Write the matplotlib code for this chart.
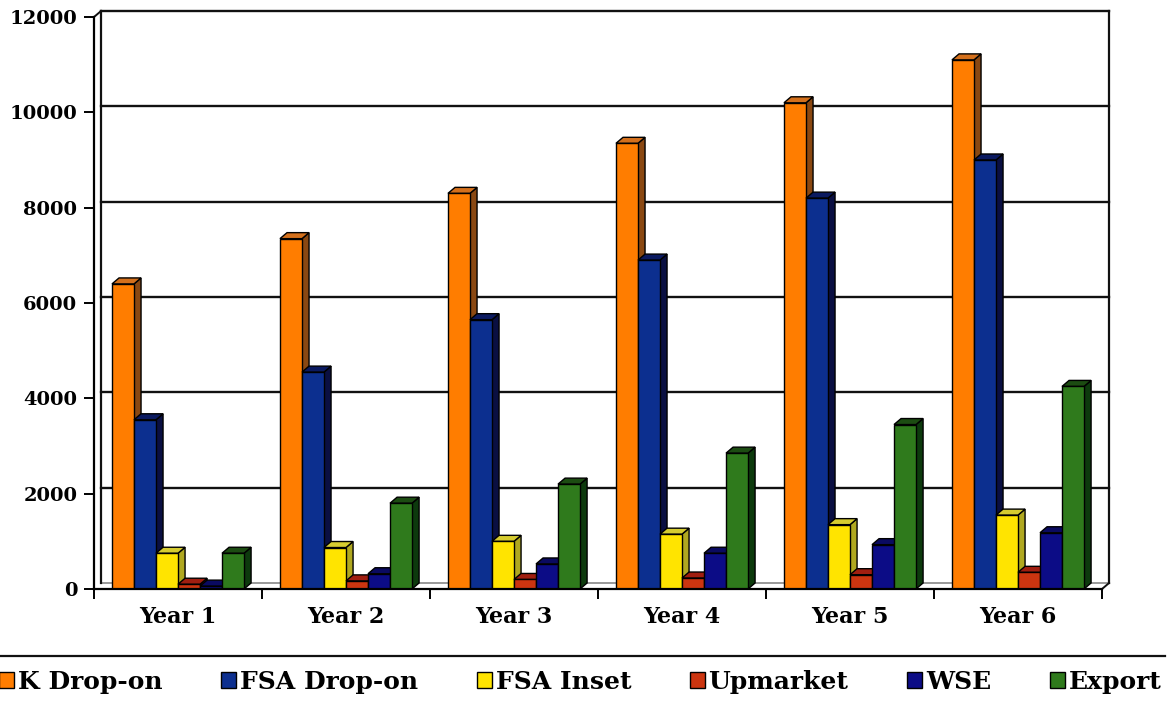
import numpy as np
import matplotlib.pyplot as plt
from matplotlib.patches import Polygon
from matplotlib.lines import Line2D

years = ["Year 1", "Year 2", "Year 3", "Year 4", "Year 5", "Year 6"]
series = ["K Drop-on", "FSA Drop-on", "FSA Inset", "Upmarket", "WSE", "Export"]

k_drop_on = [6400, 7350, 8300, 9350, 10200, 11100]
fsa_drop_on = [3550, 4550, 5650, 6900, 8200, 9000]
fsa_inset = [750, 870, 1000, 1150, 1350, 1550]
upmarket = [100, 170, 200, 230, 300, 350]
wse = [60, 320, 525, 750, 930, 1180]
export = [750, 1800, 2200, 2850, 3450, 4250]

values = [k_drop_on, fsa_drop_on, fsa_inset, upmarket, wse, export]

# front, side, top colours per series
front_cols = ["#ff7d00", "#0c2f8f", "#ffe400", "#cc3510", "#0c0c86", "#2f7a1c"]
side_cols = ["#8a4812", "#0a0f42", "#b0a820", "#7a1208", "#05053e", "#0d3a0d"]
top_cols = ["#d4701c", "#0b1a60", "#d6cc30", "#a01e10", "#0a0a60", "#1c4c12"]

font = "DejaVu Serif"
plt.rcParams["font.family"] = font

fig = plt.figure(figsize=(11.7, 7.05), dpi=100)
ax = fig.add_axes([94 / 1170, 116 / 705, 1008 / 1170, 572 / 705])

x = np.arange(len(years))
bw = 0.131
dx = 0.042   # depth in category units
dy = 126     # depth in value units
ymax = 12000

ax.set_xlim(-0.5, 5.5)
ax.set_ylim(0, ymax)

# back wall: gridlines and edges
for v in range(2000, ymax + 1, 2000):
    ax.plot([-0.5 + dx, 5.5 + dx], [v + dy, v + dy], color="#111111", lw=1.7,
            zorder=1, clip_on=False)
ax.plot([-0.5 + dx, 5.5 + dx], [dy, dy], color="#888888", lw=1.2, zorder=1, clip_on=False)
ax.plot([5.5 + dx, 5.5 + dx], [dy, ymax + dy], color="#111111", lw=1.6, zorder=1, clip_on=False)
ax.plot([-0.5 + dx, -0.5 + dx], [dy, ymax + dy], color="#111111", lw=1.6, zorder=1, clip_on=False)
ax.plot([-0.5, -0.5 + dx], [ymax, ymax + dy], color="#111111", lw=1.4, zorder=1, clip_on=False)
ax.plot([5.5, 5.5 + dx], [0, dy], color="#111111", lw=1.4, zorder=1, clip_on=False)

z = 3
for i, vals in enumerate(values):
    offs = (i - 2.5) * bw
    bars = ax.bar(x + offs, vals, width=bw, color=front_cols[i], edgecolor="black",
                  linewidth=1.0, label=series[i], zorder=z + 2)
    for r in bars:
        x0, w, h = r.get_x(), r.get_width(), r.get_height()
        side = Polygon([(x0 + w, 0), (x0 + w + dx, dy), (x0 + w + dx, h + dy), (x0 + w, h)],
                       closed=True, facecolor=side_cols[i], edgecolor="black", lw=1.0,
                       zorder=z)
        top = Polygon([(x0, h), (x0 + dx, h + dy), (x0 + w + dx, h + dy), (x0 + w, h)],
                      closed=True, facecolor=top_cols[i], edgecolor="black", lw=1.0,
                      zorder=z + 1)
        ax.add_patch(side)
        ax.add_patch(top)
    z += 3

for s in ["top", "right"]:
    ax.spines[s].set_visible(False)
for s in ["left", "bottom"]:
    ax.spines[s].set_linewidth(1.6)
    ax.spines[s].set_zorder(30)

ax.set_yticks(range(0, ymax + 1, 2000))
ax.set_yticklabels([str(v) for v in range(0, ymax + 1, 2000)], fontsize=14,
                   fontweight="bold")
ax.tick_params(axis="y", direction="out", length=7, width=1.4, pad=5)

ax.set_xticks(np.arange(-0.5, 6, 1.0))
ax.set_xticklabels([])
ax.set_xticks(x, minor=True)
ax.set_xticklabels(years, minor=True, fontsize=16, fontweight="bold")
ax.tick_params(axis="x", which="major", direction="out", length=7, width=1.4)
ax.tick_params(axis="x", which="minor", length=0, pad=12)

# legend strip along the bottom; the last entry runs off the right edge
fig.add_artist(Line2D([0, 1165 / 1170], [49 / 705, 49 / 705], color="#111111", lw=1.6))
handles, labels = ax.get_legend_handles_labels()
fig.legend(handles, labels, loc="center left", bbox_to_anchor=(-1 / 1170, 23 / 705),
           ncol=6, frameon=False, prop={"weight": "bold", "size": 18},
           handlelength=0.6, handleheight=0.6, handletextpad=0.15,
           columnspacing=2.35, borderpad=0, borderaxespad=0)

fig.savefig("out.png", dpi=100)
